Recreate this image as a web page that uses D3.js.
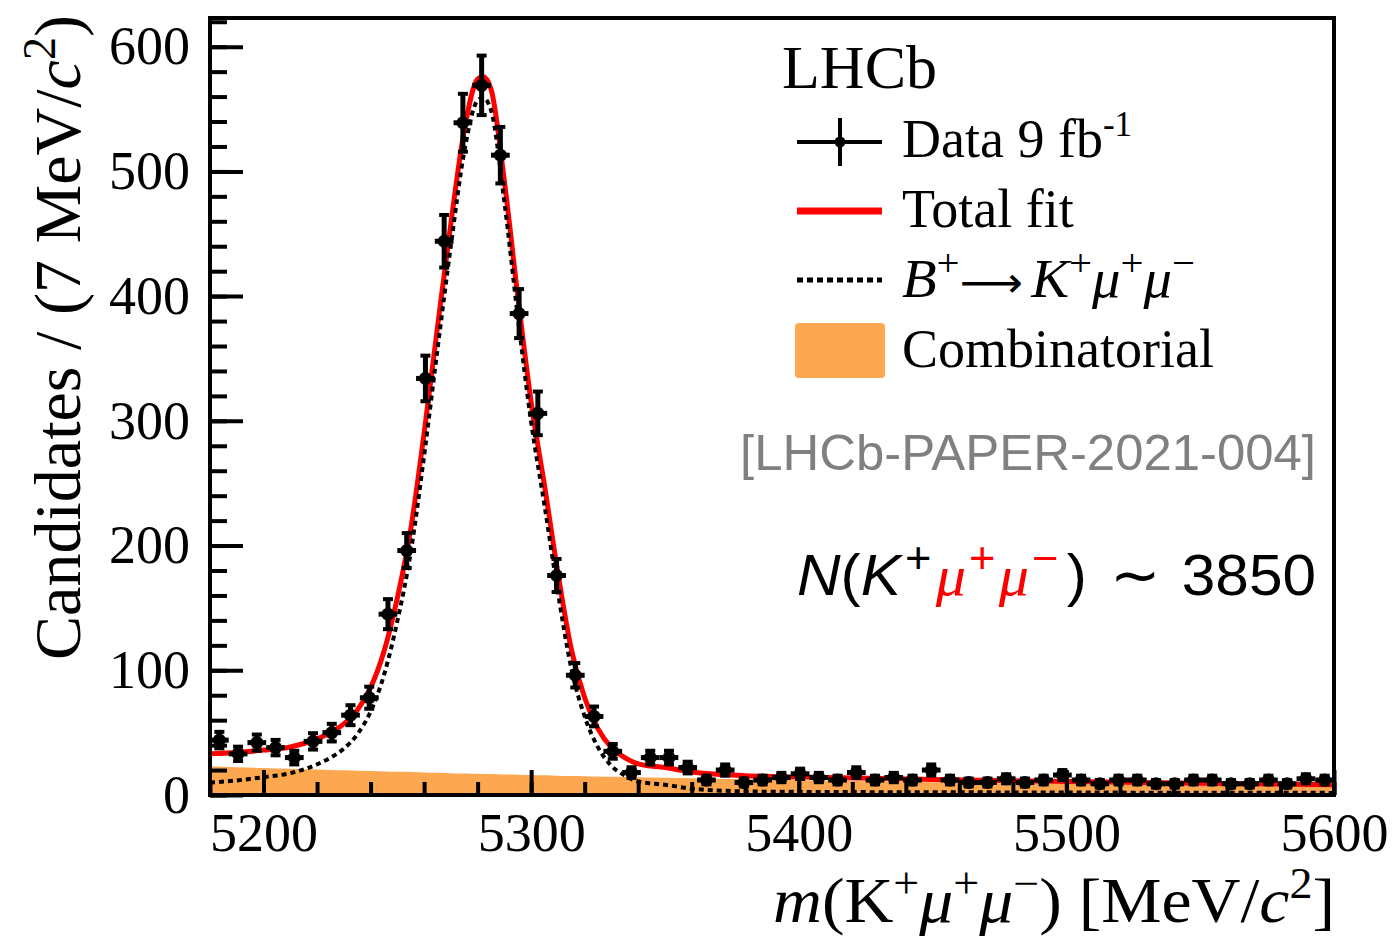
<!DOCTYPE html>
<html>
<head>
<meta charset="utf-8">
<script src="https://cdn.jsdelivr.net/npm/d3@7/dist/d3.min.js"></script>
<style>
  body { margin: 0; background: #fff; }
  svg text { font-family: "Liberation Serif", "Times New Roman", serif; }
</style>
</head>
<body>
<div id="chart"></div>
<script>
// histogram: 60 bins of 7 MeV starting at 5180
var binLow = 5180, binWidth = 7;
var counts = [44, 33, 42, 38, 30, 43, 50, 64, 78, 145,
              196, 334, 444, 539, 569, 513, 386, 306, 176, 96,
              63, 35, 18, 30, 30, 22, 12, 20, 10, 12,
              14, 17, 14, 12, 18, 12, 14, 12, 20, 12,
              10, 10, 13, 10, 12, 16, 12, 9, 12, 12,
              9, 9, 12, 12, 9, 9, 12, 9, 13, 12];

// fit components
var fitMass   = [5180, 5190, 5200, 5210, 5220, 5225, 5230, 5235, 5240, 5245, 5250, 5255, 5260, 5265, 5270, 5275, 5280, 5282, 5285, 5290,
                 5295, 5300, 5305, 5310, 5315, 5320, 5325, 5330, 5335, 5340, 5350, 5360, 5380, 5400, 5450, 5500, 5550, 5600];
var totalFit  = [33, 34, 36, 38.5, 45, 50, 57, 68, 86, 115, 158, 213, 290, 375, 458, 533, 574, 576, 566, 492,
                 400, 315, 248, 178, 117, 78, 53, 38, 30, 25, 22, 18.5, 15.5, 14.4, 12.5, 10.8, 9.4, 8.2];
var signalFit = [10, 11.7, 14.3, 17.5, 24.6, 29.9, 37.2, 48.5, 66.8, 96.1, 139.4, 194.6, 271.9, 357.2, 440.5, 515.7, 557, 559.1, 549.2, 475.5,
                 383.7, 299, 232.2, 162.5, 101.7, 62.9, 38.2, 23.4, 15.6, 10.8, 8.2, 5.1, 2.9, 2.5, 2.2, 2.0, 1.8, 1.7];
var combFit   = [23, 22.3, 21.7, 21, 20.4, 20.1, 19.8, 19.5, 19.2, 18.9, 18.6, 18.4, 18.1, 17.8, 17.5, 17.3, 17, 16.9, 16.8, 16.5,
                 16.3, 16, 15.8, 15.5, 15.3, 15.1, 14.8, 14.6, 14.4, 14.2, 13.8, 13.4, 12.6, 11.9, 10.3, 8.8, 7.6, 6.5];

var xTicks = [5200, 5300, 5400, 5500, 5600];
var yTicks = [0, 100, 200, 300, 400, 500, 600];

var width = 1393, height = 937;
var margin = {top: 18, right: 59, bottom: 142, left: 210};
var w = width - margin.left - margin.right;
var h = height - margin.top - margin.bottom;

var x = d3.scaleLinear().domain([5180, 5600]).range([0, w]);
var y = d3.scaleLinear().domain([0, 623]).range([h, 0]);

var svg = d3.select("#chart").append("svg")
    .attr("width", width)
    .attr("height", height);

svg.append("rect").attr("width", width).attr("height", height).attr("fill", "#fff");

svg.append("defs").append("clipPath").attr("id", "plotclip")
  .append("rect").attr("width", w).attr("height", h);

var g = svg.append("g").attr("transform", "translate(" + margin.left + "," + margin.top + ")");
var plot = g.append("g").attr("clip-path", "url(#plotclip)");

var fit = fitMass.map(function(m, i) {
  return {m: m, total: totalFit[i], sig: signalFit[i], comb: combFit[i]};
});

// combinatorial background
plot.append("path")
    .datum(fit)
    .attr("fill", "#fda850")
    .attr("d", d3.area()
        .x(function(d) { return x(d.m); })
        .y0(y(0))
        .y1(function(d) { return y(d.comb); })
        .curve(d3.curveMonotoneX));

plot.append("path")
    .datum(fit)
    .attr("fill", "none")
    .attr("stroke", "#ff0000")
    .attr("stroke-width", 5)
    .attr("d", d3.line()
        .x(function(d) { return x(d.m); })
        .y(function(d) { return y(d.total); })
        .curve(d3.curveMonotoneX));

plot.append("path")
    .datum(fit)
    .attr("fill", "none")
    .attr("stroke", "#000")
    .attr("stroke-width", 4)
    .attr("stroke-dasharray", "5,4")
    .attr("d", d3.line()
        .x(function(d) { return x(d.m); })
        .y(function(d) { return y(d.sig); })
        .curve(d3.curveMonotoneX));

// data points with poisson errors
var bins = counts.map(function(n, i) {
  return {lo: binLow + i * binWidth, c: binLow + (i + 0.5) * binWidth, n: n, err: Math.sqrt(n)};
});

var pts = g.append("g").selectAll("g.pt").data(bins).enter().append("g").attr("class", "pt");

pts.append("line")
    .attr("x1", function(d) { return x(d.lo); })
    .attr("x2", function(d) { return x(d.lo + binWidth); })
    .attr("y1", function(d) { return y(d.n); })
    .attr("y2", function(d) { return y(d.n); })
    .attr("stroke", "#000").attr("stroke-width", 5);

pts.append("line")
    .attr("x1", function(d) { return x(d.c); })
    .attr("x2", function(d) { return x(d.c); })
    .attr("y1", function(d) { return y(d.n - d.err); })
    .attr("y2", function(d) { return y(d.n + d.err); })
    .attr("stroke", "#000").attr("stroke-width", 5);

[1, -1].forEach(function(s) {
  pts.append("line")
      .attr("x1", function(d) { return x(d.c) - 5; })
      .attr("x2", function(d) { return x(d.c) + 5; })
      .attr("y1", function(d) { return y(d.n + s * d.err); })
      .attr("y2", function(d) { return y(d.n + s * d.err); })
      .attr("stroke", "#000").attr("stroke-width", 4);
});

pts.append("circle")
    .attr("cx", function(d) { return x(d.c); })
    .attr("cy", function(d) { return y(d.n); })
    .attr("r", 6.5)
    .attr("fill", "#000");

// axes, ticks pointing inwards
g.append("g")
    .attr("transform", "translate(0," + h + ")")
    .call(d3.axisBottom(x).tickValues(xTicks).tickSize(-25).tickPadding(18).tickFormat(d3.format("d")));
g.append("g")
    .attr("transform", "translate(0," + h + ")")
    .call(d3.axisBottom(x).tickValues(d3.range(5180, 5601, 20)).tickSize(-13).tickFormat(""));

g.append("g")
    .call(d3.axisLeft(y).tickValues(yTicks).tickSize(-33).tickPadding(20));
g.append("g")
    .call(d3.axisLeft(y).tickValues(d3.range(0, 621, 20)).tickSize(-17).tickFormat(""));

g.selectAll(".domain").remove();
g.selectAll(".tick line").attr("stroke", "#000").attr("stroke-width", 4);
g.selectAll(".tick text")
    .attr("fill", "#000")
    .style("font-family", "'Liberation Serif', serif")
    .style("font-size", "54px");

g.append("rect")
    .attr("width", w).attr("height", h)
    .attr("fill", "none").attr("stroke", "#000").attr("stroke-width", 4);

// rich text helper: parts = [text, opts]
function rich(parent, px, py, anchor, size, family, parts, supScale) {
  supScale = supScale || 0.7;
  var t = parent.append("text")
      .attr("x", px).attr("y", py)
      .attr("text-anchor", anchor)
      .style("font-size", size + "px")
      .style("font-family", family);
  var shift = 0;
  parts.forEach(function(p) {
    var o = p[1] || {};
    var s = t.append("tspan").text(p[0]);
    var target = o.sup ? -size * 0.38 : 0;
    if (target !== shift) { s.attr("dy", target - shift); shift = target; }
    if (o.sup) s.style("font-size", (size * supScale) + "px");
    if (o.size) s.style("font-size", o.size + "px");
    if (o.it) s.style("font-style", "italic");
    if (o.fill) s.attr("fill", o.fill);
    if (o.fam) s.style("font-family", o.fam);
    if (o.dx) s.attr("dx", o.dx);
  });
  return t;
}

var serif = "'Liberation Serif', serif";
var sans = "'Liberation Sans', sans-serif";

// axis titles
rich(svg, 1335, 922, "end", 64, serif, [
  ["m", {it: true}], ["(K"], ["+", {sup: true}], ["\u03bc", {it: true}], ["+", {sup: true}],
  ["\u03bc", {it: true}], ["\u2212", {sup: true}], [") [MeV/"], ["c", {it: true}], ["2", {sup: true}], ["]"]
], 0.68)
  .attr("textLength", 562).attr("lengthAdjust", "spacingAndGlyphs");

var ytitle = rich(svg, 0, 0, "end", 66, serif, [
  ["Candidates / (7 MeV/"], ["c", {it: true}], ["2", {sup: true}], [")"]
]);
ytitle.attr("transform", "translate(80,15) rotate(-90)")
  .attr("textLength", 645).attr("lengthAdjust", "spacingAndGlyphs");

// legend
var leg = svg.append("g");
leg.append("text").attr("x", 782).attr("y", 88).style("font-size", "62px").text("LHCb");

leg.append("line").attr("x1", 797).attr("x2", 882).attr("y1", 142).attr("y2", 142).attr("stroke", "#000").attr("stroke-width", 4);
leg.append("line").attr("x1", 840).attr("x2", 840).attr("y1", 118).attr("y2", 166).attr("stroke", "#000").attr("stroke-width", 4);
leg.append("circle").attr("cx", 840).attr("cy", 142).attr("r", 5.5).attr("fill", "#000");
rich(leg, 902, 157, "start", 54, serif, [["Data 9 fb"], ["-1", {sup: true}]], 0.65);

leg.append("line").attr("x1", 797).attr("x2", 882).attr("y1", 211).attr("y2", 211).attr("stroke", "#ff0000").attr("stroke-width", 7);
rich(leg, 902, 227, "start", 54, serif, [["Total fit"]]);

leg.append("line").attr("x1", 797).attr("x2", 882).attr("y1", 280).attr("y2", 280).attr("stroke", "#000").attr("stroke-width", 5).attr("stroke-dasharray", "6,4");
rich(leg, 902, 297, "start", 54, serif, [
  ["B", {it: true}], ["+", {sup: true}], ["\u27f6", {fam: "'DejaVu Sans', sans-serif", size: 42}], ["K", {it: true, dx: 8}], ["+", {sup: true}],
  ["\u03bc", {it: true}], ["+", {sup: true}], ["\u03bc", {it: true}], ["\u2212", {sup: true}]
], 0.72)
  .attr("textLength", 293).attr("lengthAdjust", "spacingAndGlyphs");

leg.append("rect").attr("x", 795).attr("y", 323).attr("width", 90).attr("height", 55).attr("rx", 4).attr("fill", "#fda850");
rich(leg, 902, 367, "start", 54, serif, [["Combinatorial"]]);

svg.append("text")
    .attr("x", 1316).attr("y", 470)
    .attr("text-anchor", "end")
    .attr("fill", "#808080")
    .attr("textLength", 576)
    .attr("lengthAdjust", "spacingAndGlyphs")
    .style("font-family", sans)
    .style("font-size", "50px")
    .text("[LHCb-PAPER-2021-004]");

rich(svg, 1316, 595, "end", 58, sans, [
  ["N", {it: true}], ["("], ["K", {it: true}], ["+", {sup: true, dx: 4}],
  ["\u03bc", {it: true, fill: "#ff0000", fam: serif, dx: 4}], ["+", {sup: true, fill: "#ff0000", dx: 3}],
  ["\u03bc", {it: true, fill: "#ff0000", fam: serif, dx: 3}], ["\u2212", {sup: true, fill: "#ff0000", dx: 3}],
  [")", {dx: 8}], [" \u223c ", {dx: 6}], ["3850", {dx: 4}]
], 0.75)
  .attr("textLength", 519).attr("lengthAdjust", "spacingAndGlyphs");
</script>
</body>
</html>
